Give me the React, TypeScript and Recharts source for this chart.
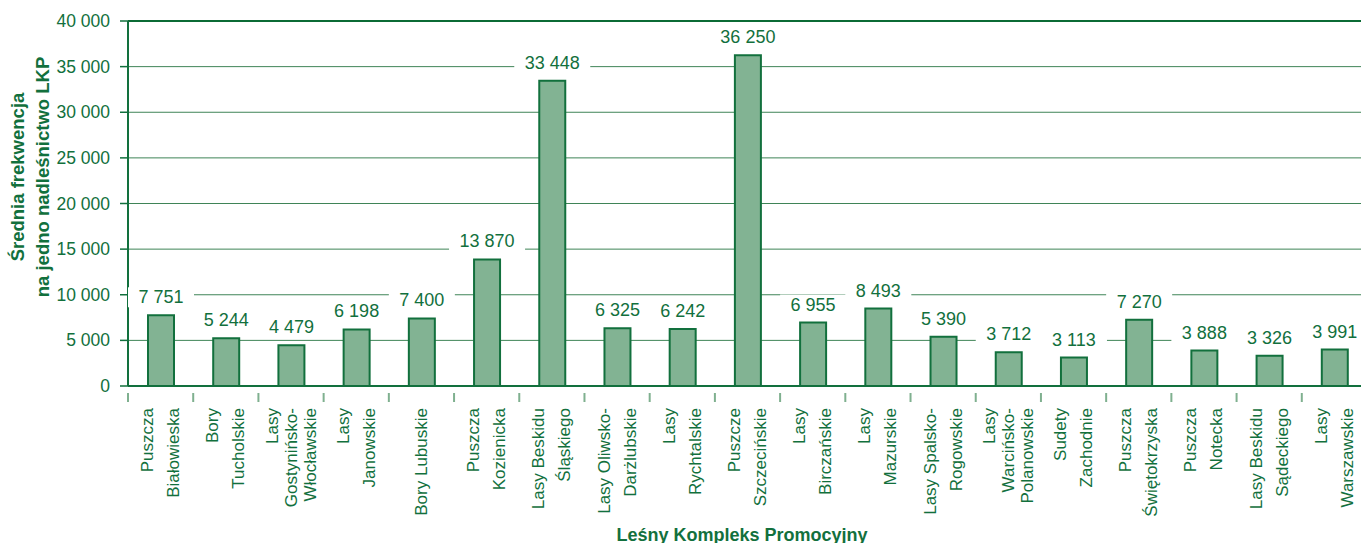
import { Bar, BarChart, CartesianGrid, LabelList, ReferenceLine, XAxis, YAxis } from 'recharts'

const categories = [
  'Puszcza|Białowieska',
  'Bory|Tucholskie',
  'Lasy|Gostynińsko-|Włocławskie',
  'Lasy|Janowskie',
  'Bory Lubuskie',
  'Puszcza|Kozienicka',
  'Lasy Beskidu|Śląskiego',
  'Lasy Oliwsko-|Darżlubskie',
  'Lasy|Rychtalskie',
  'Puszcze|Szczecińskie',
  'Lasy|Birczańskie',
  'Lasy|Mazurskie',
  'Lasy Spalsko-|Rogowskie',
  'Lasy|Warcińsko-|Polanowskie',
  'Sudety|Zachodnie',
  'Puszcza|Świętokrzyska',
  'Puszcza|Notecka',
  'Lasy Beskidu|Sądeckiego',
  'Lasy|Warszawskie',
]

const frekwencja = [
  7751, 5244, 4479, 6198, 7400, 13870, 33448, 6325, 6242, 36250, 6955, 8493, 5390, 3712,
  3113, 7270, 3888, 3326, 3991,
]

const yTicks = [0, 5000, 10000, 15000, 20000, 25000, 30000, 35000, 40000]

const yTitle = ['Średnia frekwencja', 'na jedno nadleśnictwo LKP']
const xTitle = 'Leśny Kompleks Promocyjny'

const data = categories.map((name, i) => ({ name, value: frekwencja[i] }))

const WIDTH = 1367
const HEIGHT = 543
const LEFT = 128
const BAND = (WIDTH - LEFT) / categories.length
const GREEN = '#12703d'
const FONT = '"Liberation Sans", Arial, sans-serif'

const fmt = (v: number) => String(v).replace(/\B(?=(\d{3})+(?!\d))/g, ' ')

function YTick({ x, y, payload }: any) {
  return (
    <g>
      <line x1={LEFT - 8} x2={LEFT} y1={y} y2={y} stroke={GREEN} strokeWidth={1.5} />
      <text
        x={x - 10}
        y={y}
        textAnchor="end"
        dominantBaseline="central"
        fill={GREEN}
        fontSize={17.5}
        fontFamily={FONT}
      >
        {fmt(payload.value)}
      </text>
    </g>
  )
}

function XTick({ x, y, payload }: any) {
  const lines = String(payload.value).split('|')
  const gap = lines.length === 3 ? 19 : 26
  const start = x - ((lines.length - 1) * gap) / 2
  return (
    <g>
      <line x1={x - BAND / 2} x2={x - BAND / 2} y1={y - 1} y2={y + 8} stroke="#7fb08f" strokeWidth={2} />
      {lines.map((line, i) => {
        const cx = start + i * gap
        const top = y + 14
        return (
          <text
            key={i}
            x={cx}
            y={top}
            transform={`rotate(-90 ${cx} ${top})`}
            textAnchor="end"
            dominantBaseline="central"
            fill={GREEN}
            fontSize={17}
            fontFamily={FONT}
          >
            {line}
          </text>
        )
      })}
    </g>
  )
}

function ValueLabel({ x, y, width, value }: any) {
  const cx = x + width / 2
  const cy = y - 18
  const label = fmt(value)
  const w = label.length * 10 + 16
  return (
    <g>
      <rect x={cx - w / 2} y={cy - 10} width={w} height={20} fill="#ffffff" />
      <text
        x={cx}
        y={cy}
        textAnchor="middle"
        dominantBaseline="central"
        fill={GREEN}
        fontSize={18}
        fontFamily={FONT}
      >
        {label}
      </text>
    </g>
  )
}

export default function App() {
  return (
    <div
      style={{
        position: 'absolute',
        left: 0,
        top: 0,
        width: 1361,
        height: HEIGHT,
        overflow: 'hidden',
        background: '#ffffff',
      }}
    >
      <BarChart
        width={WIDTH}
        height={HEIGHT}
        data={data}
        margin={{ top: 21, right: 0, left: 0, bottom: 0 }}
        barCategoryGap={0}
      >
        <CartesianGrid horizontal vertical={false} stroke="#3f8457" strokeWidth={1} />
        <ReferenceLine y={40000} stroke="#0b6b35" strokeWidth={2} />
        <XAxis
          dataKey="name"
          height={157}
          interval={0}
          axisLine={{ stroke: GREEN, strokeWidth: 2 }}
          tickLine={false}
          tick={<XTick />}
        />
        <YAxis
          width={LEFT}
          domain={[0, 40000]}
          ticks={yTicks}
          interval={0}
          axisLine={{ stroke: GREEN, strokeWidth: 2 }}
          tickLine={false}
          tick={<YTick />}
        />
        <Bar
          dataKey="value"
          barSize={26}
          fill="#82b393"
          stroke="#12703d"
          strokeWidth={2}
          isAnimationActive={false}
        >
          <LabelList dataKey="value" content={<ValueLabel />} />
        </Bar>
      </BarChart>
      <svg
        width={1361}
        height={HEIGHT}
        style={{ position: 'absolute', left: 0, top: 0, pointerEvents: 'none' }}
      >
        {yTitle.map((line, i) => {
          const cx = 17 + i * 25
          return (
            <text
              key={i}
              x={cx}
              y={177}
              transform={`rotate(-90 ${cx} 177)`}
              textAnchor="middle"
              dominantBaseline="central"
              fill={GREEN}
              fontSize={18.5}
              fontWeight="bold"
              fontFamily={FONT}
            >
              {line}
            </text>
          )
        })}
        <text
          x={742}
          y={541}
          textAnchor="middle"
          fill={GREEN}
          fontSize={18}
          fontWeight="bold"
          fontFamily={FONT}
        >
          {xTitle}
        </text>
      </svg>
    </div>
  )
}
